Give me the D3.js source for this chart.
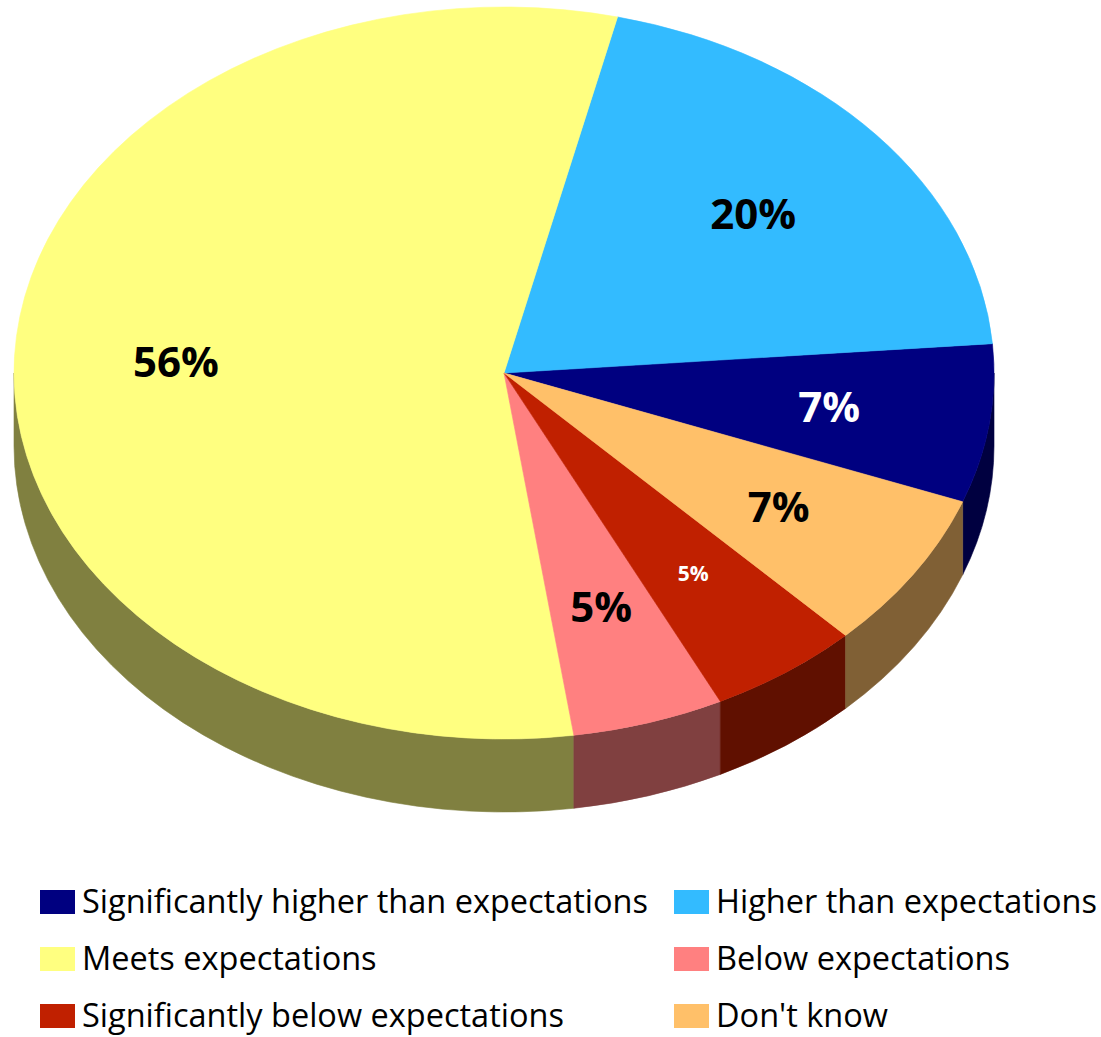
<!DOCTYPE html>
<html>
<head>
<meta charset="utf-8">
<script src="https://cdn.jsdelivr.net/npm/d3@7"></script>
<style>
  body { margin: 0; background: #fff; }
  svg { display: block; }
</style>
</head>
<body>
<script>
// Survey responses (legend / series order)
const categories = [
  "Significantly higher than expectations",
  "Higher than expectations",
  "Meets expectations",
  "Below expectations",
  "Significantly below expectations",
  "Don't know"
];
const values = [7, 20, 56, 5, 5, 7];
const labels = ["7%", "20%", "56%", "5%", "5%", "7%"];
const colors = ["#000080", "#33BBFF", "#FFFF80", "#FF8080", "#C02000", "#FFC069"];
const labelColors = ["#ffffff", "#000000", "#000000", "#000000", "#ffffff", "#000000"];
const labelSizes = [42, 42, 42, 42, 21, 42];

const W = 1101, H = 1037;
const cx = 504, cy = 373;      // centre of the top face
const rx = 490, ry = 366;      // ellipse radii of the tilted disc
const depth = 73;              // visible thickness of the disc
const k = ry / rx;
const rad = d => d * Math.PI / 180;
const startAngle = rad(110.6);

const svg = d3.select("body").append("svg")
  .attr("width", W).attr("height", H)
  .style("font-family", "'Open Sans', 'Noto Sans', sans-serif");

// Slices run counter-clockwise from the start angle
const pie = d3.pie().sort(null).value(d => d)
  .startAngle(startAngle).endAngle(startAngle - 2 * Math.PI);
const slices = pie(values).map((s, i) => ({ ...s, i }));

// Disc drawn in circle space, squashed vertically into an ellipse
const g = svg.append("g").attr("transform", `translate(${cx},${cy}) scale(1,${k})`);
const depthS = depth / k;

// Front wall: only the part of each slice facing the viewer (90°..270°)
function sideRange(s) {
  const lo = Math.min(s.startAngle, s.endAngle), hi = Math.max(s.startAngle, s.endAngle);
  for (const shift of [-2 * Math.PI, 0, 2 * Math.PI]) {
    const a = Math.max(lo, Math.PI / 2 + shift), b = Math.min(hi, 3 * Math.PI / 2 + shift);
    if (b > a) return [a, b];
  }
  return null;
}
function sidePath(a, b) {
  const p = d3.path();
  p.moveTo(rx * Math.sin(a), -rx * Math.cos(a));
  p.arc(0, 0, rx, a - Math.PI / 2, b - Math.PI / 2, false);
  p.lineTo(rx * Math.sin(b), -rx * Math.cos(b) + depthS);
  p.arc(0, depthS, rx, b - Math.PI / 2, a - Math.PI / 2, true);
  p.closePath();
  return p.toString();
}
const shade = c => { const r = d3.rgb(c); return d3.rgb(r.r * 0.5, r.g * 0.5, r.b * 0.5).formatHex(); };

g.selectAll("path.side")
  .data(slices.filter(s => sideRange(s)))
  .join("path")
  .attr("class", "side")
  .attr("d", s => { const [a, b] = sideRange(s); return sidePath(a, b); })
  .attr("fill", s => shade(colors[s.i]))
  .attr("stroke", s => shade(colors[s.i]))
  .attr("stroke-width", 0.6)
  .attr("vector-effect", "non-scaling-stroke");

// Top faces
const arc = d3.arc().innerRadius(0).outerRadius(rx);
g.selectAll("path.top")
  .data(slices)
  .join("path")
  .attr("class", "top")
  .attr("d", arc)
  .attr("fill", s => colors[s.i])
  .attr("stroke", s => colors[s.i])
  .attr("stroke-width", 0.6)
  .attr("vector-effect", "non-scaling-stroke");

// Percentage labels
const labelArc = d3.arc().innerRadius(rx * 0.67).outerRadius(rx * 0.67);
svg.append("g").selectAll("text")
  .data(slices)
  .join("text")
  .attr("x", s => cx + labelArc.centroid(s)[0])
  .attr("y", s => cy + labelArc.centroid(s)[1] * k)
  .attr("dy", "0.36em")
  .attr("text-anchor", "middle")
  .attr("font-weight", "bold")
  .attr("font-size", s => labelSizes[s.i])
  .attr("fill", s => labelColors[s.i])
  .text(s => labels[s.i]);

// Legend: two columns
const legendX = [40, 674], legendY0 = 890, rowStep = 57;
const leg = svg.append("g").selectAll("g")
  .data(categories)
  .join("g")
  .attr("transform", (d, i) => `translate(${legendX[i % 2]},${legendY0 + Math.floor(i / 2) * rowStep})`);
leg.append("rect")
  .attr("width", 35).attr("height", 24)
  .attr("fill", (d, i) => colors[i]);
leg.append("text")
  .attr("x", 42).attr("y", 23)
  .attr("font-size", 32.5)
  .attr("fill", "#000")
  .text(d => d);
</script>
</body>
</html>
